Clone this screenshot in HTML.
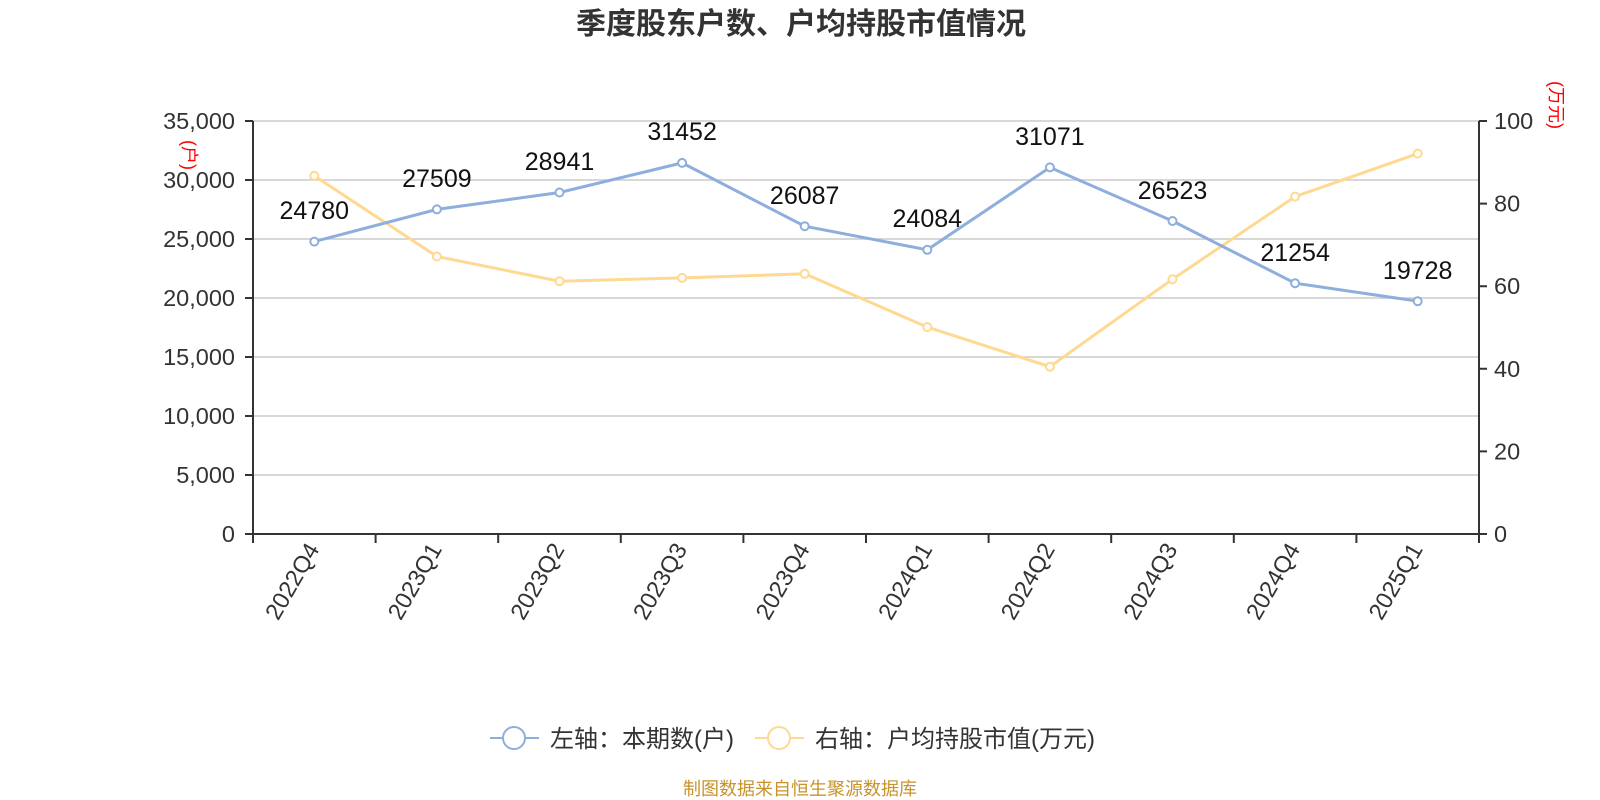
<!DOCTYPE html>
<html><head><meta charset="utf-8"><style>
html,body{margin:0;padding:0;background:#fff;}
svg{display:block;font-family:"Liberation Sans","Noto Sans CJK SC",sans-serif;}
</style></head><body>
<svg width="1600" height="800" viewBox="0 0 1600 800" xmlns="http://www.w3.org/2000/svg">
<text x="801" y="34" text-anchor="middle" font-size="30" font-weight="bold" fill="#333">季度股东户数、户均持股市值情况</text>
<g stroke="#ccc" stroke-width="1.5">
<line x1="253" y1="121" x2="1479" y2="121"/><line x1="253" y1="180" x2="1479" y2="180"/>
<line x1="253" y1="239" x2="1479" y2="239"/><line x1="253" y1="298" x2="1479" y2="298"/>
<line x1="253" y1="357" x2="1479" y2="357"/><line x1="253" y1="416" x2="1479" y2="416"/>
<line x1="253" y1="475" x2="1479" y2="475"/>
</g>
<g stroke="#333" stroke-width="2" fill="none">
<line x1="253" y1="121" x2="253" y2="534"/><line x1="1479" y1="121" x2="1479" y2="534"/>
<line x1="253" y1="534" x2="1479" y2="534"/>
<path d="M245 121H253M245 180H253M245 239H253M245 298H253M245 357H253M245 416H253M245 475H253M245 534H253"/>
<path d="M1479 121H1487M1479 203.6H1487M1479 286.2H1487M1479 368.8H1487M1479 451.4H1487M1479 534H1487"/>
<path d="M253 534V543M375.6 534V543M498.2 534V543M620.8 534V543M743.4 534V543M866 534V543M988.6 534V543M1111.2 534V543M1233.8 534V543M1356.4 534V543M1479 534V543"/>
</g>
<g font-size="23.5" fill="#333" text-anchor="end">
<text x="235" y="129">35,000</text><text x="235" y="188">30,000</text><text x="235" y="247">25,000</text>
<text x="235" y="306">20,000</text><text x="235" y="365">15,000</text><text x="235" y="424">10,000</text>
<text x="235" y="483">5,000</text><text x="235" y="542">0</text>
</g>
<g font-size="23.5" fill="#333">
<text x="1494" y="129">100</text><text x="1494" y="211.6">80</text><text x="1494" y="294.2">60</text>
<text x="1494" y="376.8">40</text><text x="1494" y="459.4">20</text><text x="1494" y="542">0</text>
</g>
<text transform="translate(183,155) rotate(90)" text-anchor="middle" font-size="18" fill="#f00">(户)</text>
<text transform="translate(1550,105) rotate(90)" text-anchor="middle" font-size="18" fill="#f00">(万元)</text>
<g font-size="23.5" fill="#333" text-anchor="end">
<text transform="translate(320,549) rotate(-60)">2022Q4</text>
<text transform="translate(442.6,549) rotate(-60)">2023Q1</text>
<text transform="translate(565.2,549) rotate(-60)">2023Q2</text>
<text transform="translate(687.8,549) rotate(-60)">2023Q3</text>
<text transform="translate(810.4,549) rotate(-60)">2023Q4</text>
<text transform="translate(933,549) rotate(-60)">2024Q1</text>
<text transform="translate(1055.6,549) rotate(-60)">2024Q2</text>
<text transform="translate(1178.2,549) rotate(-60)">2024Q3</text>
<text transform="translate(1300.8,549) rotate(-60)">2024Q4</text>
<text transform="translate(1423.4,549) rotate(-60)">2025Q1</text>
</g>
<polyline fill="none" stroke="#ffd992" stroke-width="3" points="314.3,175.9 436.9,256.5 559.5,281.2 682.1,277.9 804.7,273.8 927.3,327.1 1049.9,366.7 1172.5,279.2 1295.1,196.6 1417.7,153.6"/>
<g fill="#fff" stroke="#ffd992" stroke-width="2">
<circle cx="314.3" cy="175.9" r="4"/><circle cx="436.9" cy="256.5" r="4"/><circle cx="559.5" cy="281.2" r="4"/><circle cx="682.1" cy="277.9" r="4"/><circle cx="804.7" cy="273.8" r="4"/><circle cx="927.3" cy="327.1" r="4"/><circle cx="1049.9" cy="366.7" r="4"/><circle cx="1172.5" cy="279.2" r="4"/><circle cx="1295.1" cy="196.6" r="4"/><circle cx="1417.7" cy="153.6" r="4"/>
</g>
<polyline fill="none" stroke="#8eaedd" stroke-width="3" points="314.3,241.6 436.9,209.4 559.5,192.5 682.1,162.9 804.7,226.2 927.3,249.8 1049.9,167.4 1172.5,221 1295.1,283.2 1417.7,301.2"/>
<g fill="#fff" stroke="#8eaedd" stroke-width="2">
<circle cx="314.3" cy="241.6" r="4"/><circle cx="436.9" cy="209.4" r="4"/><circle cx="559.5" cy="192.5" r="4"/><circle cx="682.1" cy="162.9" r="4"/><circle cx="804.7" cy="226.2" r="4"/><circle cx="927.3" cy="249.8" r="4"/><circle cx="1049.9" cy="167.4" r="4"/><circle cx="1172.5" cy="221" r="4"/><circle cx="1295.1" cy="283.2" r="4"/><circle cx="1417.7" cy="301.2" r="4"/>
</g>
<g font-size="25" fill="#111" text-anchor="middle">
<text x="314.3" y="219">24780</text><text x="436.9" y="187">27509</text><text x="559.5" y="170">28941</text>
<text x="682.1" y="140">31452</text><text x="804.7" y="204">26087</text><text x="927.3" y="227">24084</text>
<text x="1049.9" y="145">31071</text><text x="1172.5" y="199">26523</text><text x="1295.1" y="261">21254</text>
<text x="1417.7" y="279">19728</text>
</g>
<g stroke-width="2" fill="#fff">
<line x1="490" y1="738" x2="539" y2="738" stroke="#8eaedd"/><circle cx="514" cy="738" r="11" stroke="#8eaedd"/>
<line x1="755" y1="738" x2="804" y2="738" stroke="#ffd992"/><circle cx="779" cy="738" r="11" stroke="#ffd992"/>
</g>
<g font-size="24" fill="#333">
<text x="550" y="747">左轴：本期数(户)</text>
<text x="815" y="747">右轴：户均持股市值(万元)</text>
</g>
<text x="683" y="795" font-size="18" fill="#c8932a">制图数据来自恒生聚源数据库</text>
</svg>
</body></html>
